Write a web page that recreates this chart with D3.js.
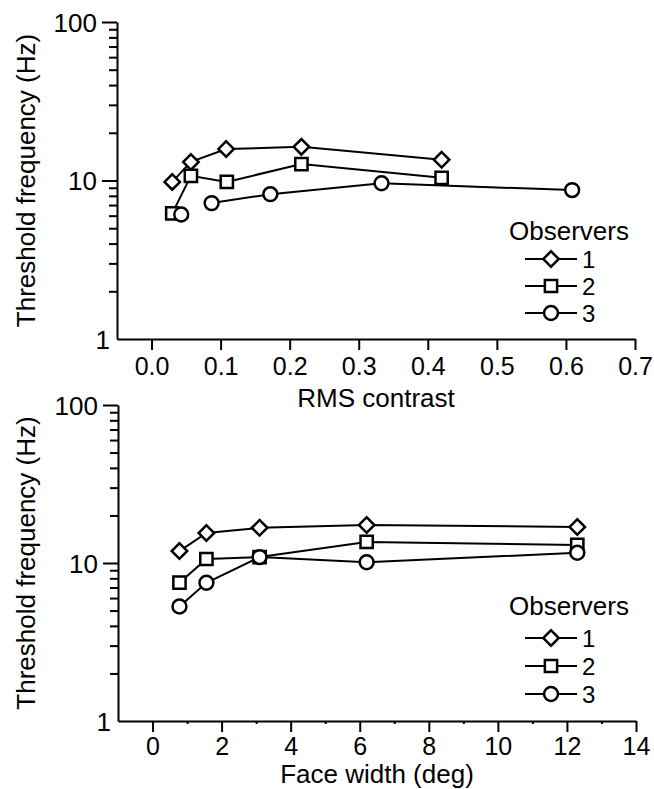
<!DOCTYPE html>
<html>
<head>
<meta charset="utf-8">
<script src="https://cdn.jsdelivr.net/npm/d3@7"></script>
<style>
  body { margin: 0; background: #fff; }
  svg { display: block; font-family: "Liberation Sans", Arial, sans-serif; }
  text { fill: #000; font-size: 26px; }
</style>
</head>
<body>
<svg width="654" height="789"></svg>
<script>
// values
var contrastX1 = [0.030, 0.057, 0.108, 0.217, 0.420];
var contrastY1 = [9.8, 13.1, 15.8, 16.3, 13.5];
var contrastX2 = [0.030, 0.057, 0.109, 0.217, 0.420];
var contrastY2 = [6.2, 10.7, 9.8, 12.7, 10.4];
var contrastX3 = [0.043, 0.087, 0.172, 0.333, 0.609];
var contrastY3 = [6.1, 7.2, 8.2, 9.6, 8.7];

var widthX = [0.78, 1.56, 3.1, 6.2, 12.3];
var widthY1 = [11.9, 15.5, 16.7, 17.4, 16.9];
var widthY2 = [7.5, 10.6, 10.9, 13.6, 13.0];
var widthY3 = [5.3, 7.5, 10.9, 10.1, 11.6];

// first point of observer 3 (contrast) is not joined to the rest
var contrastLineStart = [0, 0, 1];
var widthLineStart = [0, 0, 0];

var contrastTicks = [0, 0.1, 0.2, 0.3, 0.4, 0.5, 0.6, 0.7];
var widthTicks = [0, 2, 4, 6, 8, 10, 12, 14];
var widthMinorTicks = [1, 3, 5, 7, 9, 11, 13];
var freqTicks = [1, 10, 100];
var observers = ["1", "2", "3"];
var symbols = ["diamond", "square", "circle"];

var svg = d3.select("svg");

function marker(sel, kind) {
  if (kind == "diamond") {
    sel.append("path")
      .attr("d", d3.symbol().type(d3.symbolSquare).size(120)())
      .attr("transform", "rotate(45)");
  } else if (kind == "square") {
    sel.append("path").attr("d", d3.symbol().type(d3.symbolSquare).size(150)());
  } else {
    sel.append("path").attr("d", d3.symbol().type(d3.symbolCircle).size(152)());
  }
}

function drawPanel(p) {
  var g = svg.append("g");

  var x = d3.scaleLinear().domain(p.xDomain).range([p.left, p.right]);
  var y = d3.scaleLog().domain([1, 100]).range([p.bottom, p.top]);

  // y axis: long major ticks, short minor ticks, both outward
  var minor = d3.range(2, 10).concat(d3.range(20, 100, 10));
  g.append("g")
    .attr("transform", "translate(" + p.left + ",0)")
    .call(d3.axisLeft(y).tickValues(minor).tickSize(8).tickFormat(""))
    .call(a => a.select(".domain").remove())
    .selectAll("line").attr("stroke-width", 2);

  var yAx = g.append("g")
    .attr("transform", "translate(" + p.left + ",0)")
    .call(d3.axisLeft(y).tickValues(freqTicks).tickSize(15).tickSizeOuter(0)
      .tickFormat(d3.format("d")).tickPadding(5));
  yAx.select(".domain").attr("stroke-width", 2);
  yAx.selectAll("line").attr("stroke-width", 2);
  yAx.selectAll(".tick text").attr("dy", "0.36em").style("font-size", "26px");
  // the "1" label sits in the corner, without its tick
  yAx.selectAll(".tick").filter(d => d == 1).select("line").remove();
  yAx.selectAll(".tick").filter(d => d == 1).select("text").attr("x", -7);

  var xAx = g.append("g")
    .attr("transform", "translate(0," + p.bottom + ")")
    .call(d3.axisBottom(x).tickValues(p.ticks).tickSize(11).tickSizeOuter(0)
      .tickFormat(p.format).tickPadding(p.tickPad));
  xAx.select(".domain").attr("stroke-width", 2);
  xAx.selectAll("line").attr("stroke-width", 2);
  xAx.selectAll(".tick text").attr("dy", "0.71em").style("font-size", "25px");

  if (p.minorTicks) {
    g.append("g")
      .attr("transform", "translate(0," + p.bottom + ")")
      .call(d3.axisBottom(x).tickValues(p.minorTicks).tickSize(3).tickFormat(""))
      .call(a => a.select(".domain").remove())
      .selectAll("line").attr("stroke-width", 2);
  }

  g.append("text")
    .attr("text-anchor", "middle")
    .attr("transform", "translate(35," + ((p.top + p.bottom) / 2) + ") rotate(-90)")
    .text("Threshold frequency (Hz)");

  g.append("text")
    .attr("text-anchor", "middle")
    .attr("x", (p.left + p.right) / 2)
    .attr("y", p.bottom + p.titleOffset)
    .text(p.xTitle);

  var line = d3.line().x(d => x(d[0])).y(d => y(d[1]));

  p.series.forEach(function(s, i) {
    var pts = d3.zip(s.xs, s.ys);
    g.append("path")
      .attr("d", line(pts.slice(p.lineStart[i])))
      .attr("fill", "none")
      .attr("stroke", "#000")
      .attr("stroke-width", 2);
  });

  p.series.forEach(function(s, i) {
    d3.zip(s.xs, s.ys).forEach(function(d) {
      var m = g.append("g")
        .attr("transform", "translate(" + x(d[0]) + "," + y(d[1]) + ")")
        .attr("fill", "#fff").attr("stroke", "#000").attr("stroke-width", 2.5);
      marker(m, symbols[i]);
    });
  });

  // legend
  var lg = g.append("g");
  lg.append("text")
    .attr("text-anchor", "middle")
    .attr("x", 569)
    .attr("y", p.legendTitleY)
    .text("Observers");

  observers.forEach(function(name, i) {
    var ly = p.legendRows[i];
    lg.append("line")
      .attr("x1", 525).attr("x2", 577)
      .attr("y1", ly).attr("y2", ly)
      .attr("stroke", "#000").attr("stroke-width", 2);
    var m = lg.append("g")
      .attr("transform", "translate(551," + ly + ")")
      .attr("fill", "#fff").attr("stroke", "#000").attr("stroke-width", 2.5);
    marker(m, symbols[i]);
    lg.append("text")
      .attr("x", 582)
      .attr("y", ly)
      .attr("dy", "0.36em")
      .style("font-size", "24px")
      .text(name);
  });
}

drawPanel({
  left: 117, right: 635, top: 22, bottom: 339,
  xDomain: [-0.05, 0.7],
  ticks: contrastTicks,
  tickPad: 7,
  format: d3.format(".1f"),
  xTitle: "RMS contrast",
  titleOffset: 68,
  series: [
    { xs: contrastX1, ys: contrastY1 },
    { xs: contrastX2, ys: contrastY2 },
    { xs: contrastX3, ys: contrastY3 }
  ],
  lineStart: contrastLineStart,
  legendTitleY: 240,
  legendRows: [259, 286, 313]
});

drawPanel({
  left: 118, right: 636, top: 405, bottom: 721,
  xDomain: [-1, 14],
  ticks: widthTicks,
  tickPad: 5,
  minorTicks: widthMinorTicks,
  format: d3.format("d"),
  xTitle: "Face width (deg)",
  titleOffset: 62,
  series: [
    { xs: widthX, ys: widthY1 },
    { xs: widthX, ys: widthY2 },
    { xs: widthX, ys: widthY3 }
  ],
  lineStart: widthLineStart,
  legendTitleY: 615,
  legendRows: [638, 666, 694]
});
</script>
</body>
</html>
